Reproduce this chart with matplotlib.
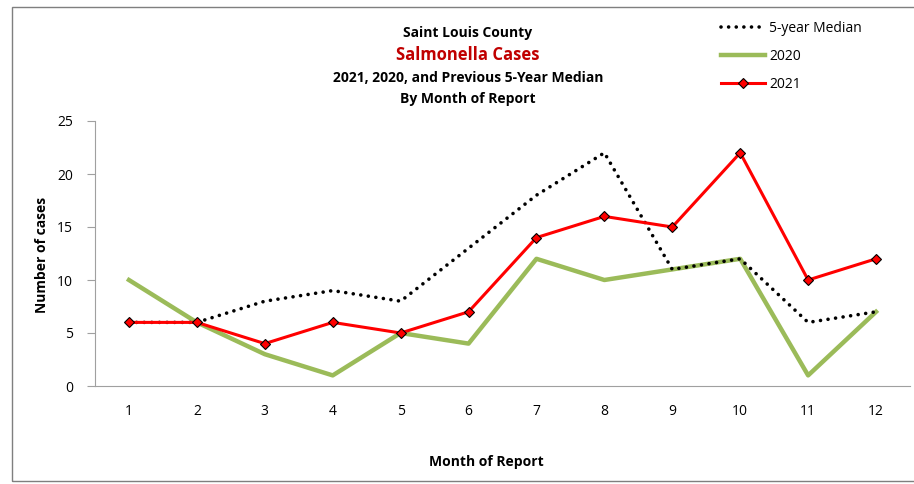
import matplotlib.pyplot as plt
from matplotlib.patches import Rectangle

months = [1, 2, 3, 4, 5, 6, 7, 8, 9, 10, 11, 12]
median_5yr = [6, 6, 8, 9, 8, 13, 18, 22, 11, 12, 6, 7]
cases_2020 = [10, 6, 3, 1, 5, 4, 12, 10, 11, 12, 1, 7]
cases_2021 = [6, 6, 4, 6, 5, 7, 14, 16, 15, 22, 10, 12]
y_ticks = [0, 5, 10, 15, 20, 25]

plt.rcParams['font.family'] = ['Open Sans', 'DejaVu Sans']

fig = plt.figure(figsize=(9.14, 4.84), dpi=100)
ax = fig.add_axes([95 / 914, 1 - 386 / 484, (910 - 95) / 914, (386 - 121) / 484])

# outer chart border, cut off on the right like the original
fig.patches.append(Rectangle((12 / 914, 3 / 484), 1.2, 474 / 484, transform=fig.transFigure,
                             fill=False, edgecolor='#7f7f7f', linewidth=1.0))

ax.plot(months, median_5yr, color='black', linestyle=(0, (0.01, 2.1)), linewidth=2.6,
        dash_capstyle='round', label='5-year Median', zorder=3)
ax.plot(months, cases_2020, color='#9bbb59', linewidth=3.2, label='2020', zorder=2)
ax.plot(months, cases_2021, color='#ff0000', linewidth=2.2, marker='D', markersize=5.5,
        markerfacecolor='#ff0000', markeredgecolor='black', markeredgewidth=0.8,
        label='2021', zorder=4)

ax.set_xlim(0.5, 12.5)
ax.set_ylim(0, 25)
ax.set_xticks(months)
ax.set_yticks(y_ticks)
ax.tick_params(axis='x', length=0, pad=13, labelsize=10)
ax.tick_params(axis='y', length=6, color='#a0a0a0', pad=10, labelsize=10)
for side in ['top', 'right']:
    ax.spines[side].set_visible(False)
for side in ['left', 'bottom']:
    ax.spines[side].set_color('#a0a0a0')

fig.text(42 / 914, 1 - 255 / 484, 'Number of cases', rotation=90, ha='center', va='center',
         fontsize=10, fontweight='bold')
fig.text(486 / 914, 1 - 462 / 484, 'Month of Report', ha='center', va='center',
         fontsize=10, fontweight='bold')

fig.text(468 / 914, 1 - 33 / 484, 'Saint Louis County', ha='center', va='center',
         fontsize=10, fontweight='bold')
fig.text(468 / 914, 1 - 55 / 484, 'Salmonella Cases', ha='center', va='center',
         fontsize=12, fontweight='bold', color='#c00000')
fig.text(468 / 914, 1 - 78 / 484, '2021, 2020, and Previous 5-Year Median', ha='center',
         va='center', fontsize=10, fontweight='bold')
fig.text(468 / 914, 1 - 99 / 484, 'By Month of Report', ha='center', va='center',
         fontsize=10, fontweight='bold')

fig.legend(loc='upper left', bbox_to_anchor=(708 / 914, 1 - 8 / 484), frameon=False,
           fontsize=10, handlelength=3.2, labelspacing=0.95, handletextpad=0.3)

fig.savefig('out.png', dpi=100)
